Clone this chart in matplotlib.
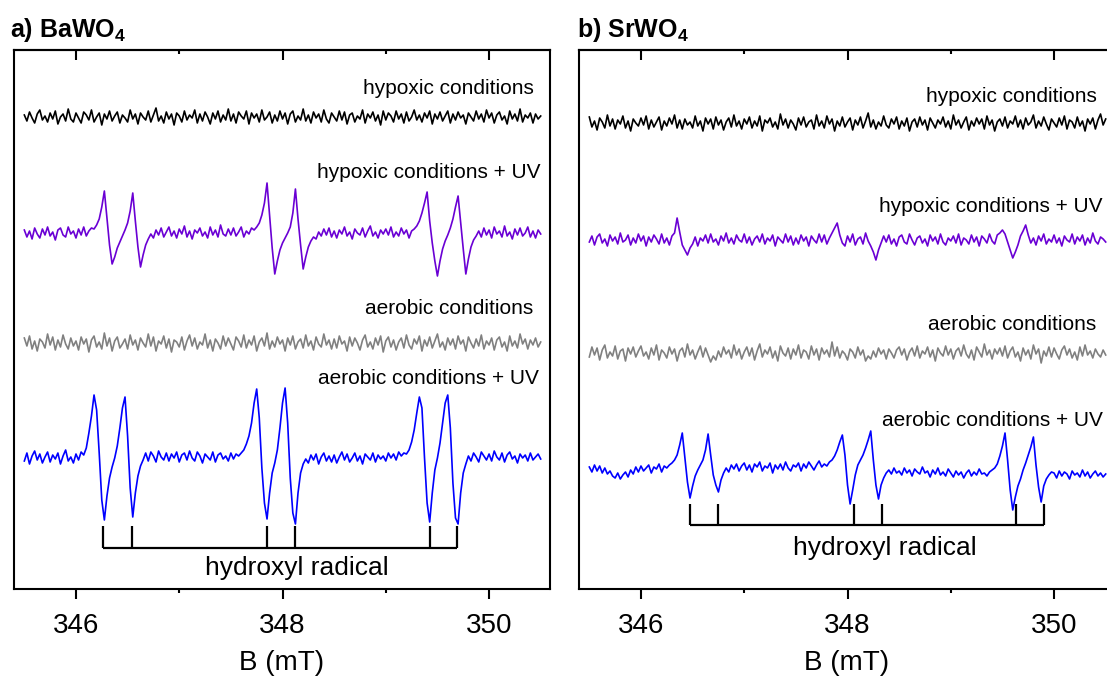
import numpy as np
import matplotlib.pyplot as plt

plt.rcParams['font.family'] = ['Liberation Sans', 'DejaVu Sans']
plt.rcParams['mathtext.fontset'] = 'custom'
plt.rcParams['mathtext.rm'] = 'Liberation Sans'
plt.rcParams['mathtext.bf'] = 'Liberation Sans:bold'

# field sweep of every spectrum (mT)
B_start, B_end = 345.5, 350.5

# ---- a) BaWO4 : intensities (a.u.), relative to each baseline ----
a_hyp = [2,-4,5,-1,-6,3,7,-3,1,-5,4,-2,6,-7,0,3,-4,8,-2,-5,
         4,-1,-6,5,2,-3,7,-5,0,4,-8,3,-2,6,-4,1,5,-6,2,-1,
         -5,7,-2,3,-7,4,0,-3,6,-5,2,9,-4,1,-6,5,-2,3,-8,4,
         1,-5,6,-3,2,-1,7,-6,3,-4,5,0,-7,4,-2,6,-5,2,-3,8,
         -4,3,-6,5,1,-2,6,-7,4,-1,3,-5,7,-3,0,5,-6,2,-4,6,
         -2,4,-7,3,6,-5,1,-3,8,-4,2,-6,5,-1,3,-5,7,-2,-6,4,
         0,-4,6,-3,5,-7,2,4,-5,1,-2,7,-6,3,-1,5,-4,2,-8,6,
         -3,4,1,-5,6,-2,3,-6,5,-4,0,7,-3,2,-5,4,-1,6,-7,3,
         -2,5,-4,1,6,-6,3,-3,5,-1,2,-7,4,0,-4,6,-2,3,-5,7,
         -1,4,-6,2,5,-3,1,-7,6,-2,3,-4,8,-5,2,-1,4,-6,3,-2,
         1]
a_hypuv = [3,-4,2,-6,5,-1,-5,4,-2,6,-3,1,-7,3,5,-2,-4,6,-1,2,
           -5,4,-2,6,-3,2,5,4,8,14,26,42,15,-12,-31,-24,-15,-9,-3,3,
           10,22,40,12,-14,-34,-22,-12,-6,-1,-5,3,-2,5,-4,1,6,-3,2,-5,
           4,-1,7,-4,2,-6,3,0,5,-3,1,-5,6,-2,3,-4,8,-1,-3,4,
           -2,5,-3,1,6,-4,2,-1,5,3,6,10,18,30,50,18,-15,-41,-28,-17,
           -10,-5,0,6,20,44,14,-12,-36,-24,-14,-8,-4,-6,1,-3,4,-2,5,-4,
           2,-5,3,-1,6,-3,1,-6,4,0,-2,5,-4,2,7,-3,1,-5,3,-1,
           4,-2,6,-4,1,-3,5,-1,3,-5,2,4,7,12,20,30,41,12,-10,-28,
           -43,-28,-16,-8,-2,5,14,26,37,10,-16,-41,-26,-14,-7,-3,2,-4,5,-2,
           3,-5,6,-1,2,-4,7,-3,1,-6,4,-2,5,-3,0,6,-4,2,-5,3,
           -1]
a_aer = [5,-3,7,-6,2,-8,4,1,-5,9,-2,6,-7,3,-4,8,-1,-6,5,-3,
         2,-7,6,-1,4,-9,3,7,-4,1,-6,10,-3,5,-8,2,6,-5,-1,4,
         -6,8,-2,3,-7,5,0,-4,9,-3,6,-8,2,-1,7,-5,4,-9,3,1,
         -4,6,-7,2,8,-3,5,-6,1,-2,9,-5,3,-8,4,0,-6,7,-3,5,
         -1,-7,6,2,-4,8,-5,3,-2,7,-8,1,5,-3,10,-6,2,-4,6,-1,
         3,-8,5,-2,7,-6,1,4,-5,8,-3,2,-7,6,-1,-4,9,-2,3,-6,
         4,-5,7,-1,2,-8,6,-3,5,0,-7,3,8,-4,1,-6,5,-2,7,-9,
         2,6,-4,3,-7,1,5,-5,8,-2,-6,4,-1,7,-8,3,-3,6,-5,2,
         9,-4,1,-7,5,-2,4,-6,7,-1,3,-8,6,0,-5,4,-3,8,-6,2,
         -2,5,-7,3,6,-4,1,-8,7,-3,2,-5,9,-1,4,-6,3,-2,5,-4,
         1]
a_aeruv = [-3,5,-6,2,7,-2,4,-5,1,6,-4,3,-1,5,-6,2,8,-3,1,-5,
           4,-2,6,3,10,25,42,63,48,5,-42,-62,-38,-20,-9,0,12,30,50,61,
           22,-30,-59,-35,-18,-8,-2,5,-3,6,2,-4,7,1,-2,5,-3,4,0,6,
           -4,3,5,-2,7,0,-3,6,2,-5,4,1,-2,6,-4,3,5,-1,2,-3,
           5,-1,4,2,5,8,14,22,35,55,69,40,-10,-45,-61,-35,-15,-5,8,30,
           55,70,35,-20,-55,-66,-35,-15,-6,-1,-5,3,-2,4,-6,1,5,-3,2,-4,
           3,-5,1,6,-2,4,-4,0,5,-3,2,-6,4,1,-2,5,-4,3,-1,2,
           -3,5,0,4,-2,6,2,5,4,8,16,28,45,61,50,0,-45,-64,-35,-12,
           0,15,35,55,63,30,-25,-60,-66,-35,-15,-6,2,-3,5,1,-4,6,2,-2,
           4,-3,7,1,-2,5,-4,3,6,-1,2,-5,4,0,3,-3,5,-2,1,4,
           -1]

# ---- b) SrWO4 ----
b_hyp = [6,-4,2,-7,5,1,-5,8,-3,4,-6,3,-1,7,-5,2,-8,4,0,-3,
         5,-2,7,-6,3,-4,1,6,-7,2,-3,5,-1,8,-5,3,-6,4,-2,1,
         -5,7,-3,2,-8,5,-1,4,-6,6,-2,3,-7,1,5,-4,8,-3,2,-6,
         4,-1,6,-5,2,-3,7,-8,3,0,5,-4,1,-6,9,-2,4,-5,3,-1,
         -7,5,-2,6,-4,1,3,-6,8,-3,2,-5,7,-1,4,-8,2,-3,6,-4,
         1,5,-7,3,-2,6,-5,2,10,-4,3,-6,1,-3,7,-2,-5,4,-1,6,
         -6,2,-3,5,-8,1,4,-4,6,-2,3,-7,5,0,-5,3,-1,6,-4,2,
         -6,8,-2,3,-5,1,6,-7,2,-3,5,-1,4,-6,7,-2,3,-8,1,4,
         -3,6,-5,2,-1,7,-4,3,-6,5,-2,1,8,-5,2,-3,6,-1,-7,4,
         0,-4,5,-2,7,-6,3,1,-5,6,-3,2,-8,4,-1,5,-6,3,9,-2,
         4]
b_hypuv = [-2,4,-5,3,6,-3,1,-6,5,-1,3,-4,7,-2,0,5,-5,2,-3,6,
           -1,4,-6,3,-2,5,1,-4,6,-3,2,-5,4,7,22,8,-5,-10,-15,-8,
           -4,3,-6,2,-1,5,-3,6,-2,1,-5,4,-1,7,-3,2,-4,5,0,-2,
           6,-3,3,-5,1,4,-2,6,-4,2,-1,5,-6,3,0,-3,6,-2,4,-5,
           2,-4,5,-1,3,-6,4,0,-3,6,-2,5,-4,2,7,12,17,5,-3,-6,
           4,-2,6,-5,1,3,-4,7,-1,-6,-12,-20,-10,-3,4,-2,5,-4,1,-6,
           3,5,-2,-4,6,0,-5,2,4,-3,1,-6,5,-1,3,-4,6,-2,-5,2,
           -1,4,-3,6,-5,2,0,-4,5,-2,3,-6,4,1,-3,6,-1,-4,5,7,
           10,6,-2,-10,-18,-12,-5,4,9,15,5,-3,2,-5,4,-1,6,-4,1,-2,
           5,-3,2,-6,4,0,-2,6,-4,3,-1,5,-5,2,-3,7,-1,-4,3,1,
           -2]
b_aer = [-4,6,-2,5,-7,3,8,-5,1,-3,7,-6,2,4,-8,5,-1,6,-4,2,
         7,-3,1,-6,5,-2,8,-7,3,0,-5,6,-1,4,-8,2,5,-4,9,-2,
         3,-6,1,7,-4,5,-2,-9,-3,-7,2,-4,6,-1,3,-5,8,-2,4,-6,
         1,6,-3,5,-7,2,9,-4,3,-1,6,-5,2,-8,7,0,-3,5,-6,4,
         -2,8,-5,3,1,-6,7,-2,4,-7,5,-1,3,-4,11,-3,6,-5,2,-1,
         -7,4,1,-5,6,-2,3,-8,-3,-6,2,-4,5,-1,3,-6,4,0,-5,3,
         6,-2,4,-7,1,5,-3,7,-5,2,-1,6,-4,3,-8,5,0,-3,7,-2,
         4,-6,2,5,-3,8,-1,-5,3,-7,6,1,-4,9,-2,3,-6,4,-1,5,
         -3,7,-5,2,6,-4,1,-8,5,-2,3,-6,8,-1,4,-10,2,-3,6,-4,
         5,-1,-6,3,7,-2,4,-5,1,-7,6,-3,8,-2,2,-5,4,-1,-4,3,
         -2]
b_aeruv = [3,-2,5,-1,4,-3,2,-4,-1,-6,-8,-3,-9,-5,-2,-7,0,-4,3,-2,
           4,-1,2,5,-3,3,1,6,-2,4,2,5,7,10,15,25,37,12,-12,-28,
           -16,-6,0,5,10,20,36,15,-5,-15,-22,-10,-3,2,-2,5,1,6,-1,4,
           7,0,5,-2,6,3,8,-1,4,2,7,-3,5,1,6,0,8,2,-1,5,
           3,7,-1,6,2,8,4,0,5,9,3,6,4,8,10,14,20,28,35,15,
           -15,-34,-20,-5,5,10,15,22,30,39,10,-15,-29,-15,-8,-3,0,-4,2,-3,
           -1,-5,2,-3,0,-6,1,-2,-4,3,-3,-1,-7,0,-4,2,-5,-2,-6,1,
           -3,-7,-1,-5,-2,-8,-3,0,-6,-2,-5,1,-4,-3,-6,-2,0,2,6,14,
           24,37,10,-20,-40,-27,-16,-9,0,7,15,23,33,5,-17,-32,-16,-9,-5,-2,
           -3,-8,-1,-6,-2,-4,-9,-1,-5,-3,-7,0,-6,-2,-8,-4,-1,-6,-3,-7,
           -4]

labels = ['hypoxic conditions', 'hypoxic conditions + UV',
          'aerobic conditions', 'aerobic conditions + UV']
colors = ['#000000', '#6a00d4', '#808080', '#0000ff']

# hydroxyl radical line positions (mT)
a_lines = [346.26, 346.54, 347.85, 348.12, 349.43, 349.69]
b_lines = [346.47, 346.75, 348.06, 348.33, 349.63, 349.90]

panels = [
    dict(title=r'a) BaWO$_\mathbf{4}$', tx=10, traces=[a_hyp, a_hypuv, a_aer, a_aeruv],
         left=14, base=[472, 356, 246, 131], lab_x=[350.43, 350.50, 350.43, 350.48],
         lab_y=[501, 416, 281, 210], lines=a_lines, stick=(41, 63), rad=(348.14, 21)),
    dict(title=r'b) SrWO$_\mathbf{4}$', tx=577, traces=[b_hyp, b_hypuv, b_aer, b_aeruv],
         left=579, base=[466, 349, 236, 119], lab_x=[350.41, 350.47, 350.41, 350.47],
         lab_y=[492, 382, 264, 169], lines=b_lines, stick=(64, 85), rad=(348.36, 41)),
]

W, H = 1107, 679
fig = plt.figure(figsize=(W/100, H/100), dpi=100)

for p in panels:
    ax = fig.add_axes([p['left']/W, (H-589)/H, 536/W, 539/H])
    for y, b, c in zip(p['traces'], p['base'], colors):
        x = np.linspace(B_start, B_end, len(y))
        ax.plot(x, np.array(y) + b, color=c, lw=1.2)
    for lab, lx, ly in zip(labels, p['lab_x'], p['lab_y']):
        ax.text(lx, ly, lab, ha='right', va='center', fontsize=15)

    lo, hi = p['stick']
    ax.vlines(p['lines'], lo, hi, color='k', lw=1.6)
    ax.hlines(lo, p['lines'][0], p['lines'][-1], color='k', lw=1.6)
    ax.text(p['rad'][0], p['rad'][1], 'hydroxyl radical', ha='center', va='center', fontsize=19)

    ax.set_xlim(345.40, 350.59)
    ax.set_ylim(0, 539)
    ax.set_yticks([])
    ax.set_xticks([346, 348, 350])
    ax.set_xticks([347, 349], minor=True)
    ax.tick_params(axis='x', which='major', direction='out', length=7, width=1.5,
                   labelsize=20, pad=10.5)
    ax.tick_params(axis='x', which='minor', direction='out', length=3, width=1.5)
    top = ax.secondary_xaxis('top')
    top.set_xticks([346, 348, 350])
    top.set_xticks([347, 349], minor=True)
    top.tick_params(axis='x', which='major', direction='in', length=7.5, width=1.5, labeltop=False)
    top.tick_params(axis='x', which='minor', direction='in', length=3, width=1.5)
    for s in ax.spines.values():
        s.set_linewidth(1.5)
    top.spines['top'].set_linewidth(1.5)
    ax.set_xlabel('B (mT)', fontsize=20, labelpad=7.5)

    fig.text(p['tx']/W, 1 - 30/H, p['title'], fontsize=18, fontweight='bold', va='center')

fig.savefig('out.png', dpi=100)
